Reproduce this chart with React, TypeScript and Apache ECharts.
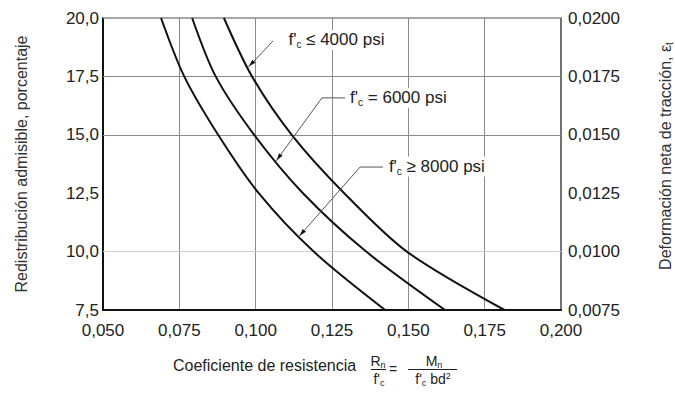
import { useEffect, useRef } from "react";
import * as echarts from "echarts";

const FONT = "'Liberation Sans', Arial, Helvetica, sans-serif";

// Curves (x = Rn/f'c, y = redistribution %)
const curve4000X = [0.0896, 0.0988, 0.1118, 0.129, 0.1495, 0.1815];
const curve4000Y = [20.0, 17.5, 15.0, 12.5, 10.0, 7.5];
const curve6000X = [0.0792, 0.0869, 0.0995, 0.1155, 0.1362, 0.162];
const curve6000Y = [20.0, 17.5, 15.0, 12.5, 10.0, 7.5];
const curve8000X = [0.069, 0.0766, 0.0877, 0.101, 0.119, 0.1424];
const curve8000Y = [20.0, 17.5, 15.0, 12.5, 10.0, 7.5];

const seriesNames = ["f'c ≤ 4000 psi", "f'c = 6000 psi", "f'c ≥ 8000 psi"];

// Axes
const xMin = 0.05, xMax = 0.2, xStep = 0.025;
const yMin = 7.5, yMax = 20.0, yStep = 2.5;
const y2Min = 0.0075, y2Max = 0.02, y2Step = 0.0025;
const hGridDark = [15.0, 17.5];
const hGridLight = [10.0];
const topBorder = [20.0];

// Annotations (data coordinates)
const labelRest = [" ≤ 4000 psi", " = 6000 psi", " ≥ 8000 psi"];
const labelAnchorX = [0.1104, 0.1306, 0.1433];
const labelAnchorY = [19.06, 16.58, 13.64];
const leaderX = [
  [0.1057, 0.0976],
  [0.1293, 0.1217, 0.1067],
  [0.1417, 0.1342, 0.1142],
];
const leaderY = [
  [19.02, 17.9],
  [16.58, 16.58, 13.88],
  [13.62, 13.62, 10.65],
];

const zip = (xs: number[], ys: number[]) => xs.map((x, i) => [x, ys[i]]);

export default function App() {
  const ref = useRef<HTMLDivElement>(null);

  useEffect(() => {
    if (!ref.current) return;
    const chart = echarts.init(ref.current, undefined, { renderer: "svg" });

    const curveSeries = [
      zip(curve4000X, curve4000Y),
      zip(curve6000X, curve6000Y),
      zip(curve8000X, curve8000Y),
    ].map((data, i) => ({
      name: seriesNames[i],
      type: "line",
      data,
      smooth: 0.3,
      showSymbol: false,
      symbol: "none",
      lineStyle: { color: "#111", width: 2 },
      z: 5,
      silent: true,
    }));

    const gridLineSeries = {
      type: "line",
      data: [],
      silent: true,
      markLine: {
        silent: true,
        symbol: ["none", "none"],
        label: { show: false },
        animation: false,
        data: [
          ...hGridDark.map((v) => ({ yAxis: v, lineStyle: { color: "#8a8a8a", width: 1, type: "solid" } })),
          ...hGridLight.map((v) => ({ yAxis: v, lineStyle: { color: "#cfcfcf", width: 1, type: "solid" } })),
          ...topBorder.map((v) => ({ yAxis: v, lineStyle: { color: "#8a8a8a", width: 1.5, type: "solid" } })),
        ],
      },
      z: 1,
    };

    chart.setOption({
      animation: false,
      grid: { left: 103, right: 114, top: 18, bottom: 84, containLabel: false, outerBoundsMode: "none" },
      xAxis: {
        type: "value",
        min: xMin,
        max: xMax,
        interval: xStep,
        axisLine: { show: true, onZero: false, lineStyle: { color: "#111", width: 2 } },
        axisTick: { show: false },
        splitLine: { show: true, showMinLine: false, showMaxLine: false, lineStyle: { color: "#8a8a8a", width: 1 } },
        axisLabel: {
          fontSize: 17,
          fontFamily: FONT,
          color: "#222",
          margin: 12,
          formatter: (v: number) => v.toFixed(3).replace(".", ","),
        },
      },
      yAxis: [
        {
          type: "value",
          position: "left",
          min: yMin,
          max: yMax,
          interval: yStep,
          axisLine: { show: true, onZero: false, lineStyle: { color: "#111", width: 2 } },
          axisTick: { show: false },
          splitLine: { show: false },
          axisLabel: {
            fontSize: 17,
            fontFamily: FONT,
            color: "#222",
            margin: 4,
            formatter: (v: number) => v.toFixed(1).replace(".", ","),
          },
        },
        {
          type: "value",
          position: "right",
          min: y2Min,
          max: y2Max,
          interval: y2Step,
          axisLine: { show: true, onZero: false, lineStyle: { color: "#444", width: 1.5 } },
          axisTick: { show: false },
          splitLine: { show: false },
          axisLabel: {
            fontSize: 17,
            fontFamily: FONT,
            color: "#222",
            margin: 7,
            formatter: (v: number) => v.toFixed(4).replace(".", ","),
          },
        },
      ],
      series: [gridLineSeries, ...curveSeries],
    });

    const toPx = (x: number, y: number) =>
      chart.convertToPixel({ xAxisIndex: 0, yAxisIndex: 0 }, [x, y]) as number[];

    const graphics: any[] = [];

    // Leader lines with arrowheads
    leaderX.forEach((xs, i) => {
      const pts = xs.map((x, j) => toPx(x, leaderY[i][j]));
      graphics.push({
        type: "polyline",
        shape: { points: pts },
        style: { stroke: "#555", lineWidth: 1, fill: null },
        z: 20,
        silent: true,
      });
      const tip = pts[pts.length - 1];
      const prev = pts[pts.length - 2];
      const dx = tip[0] - prev[0];
      const dy = tip[1] - prev[1];
      const len = Math.sqrt(dx * dx + dy * dy);
      const ux = dx / len, uy = dy / len;
      const px = -uy, py = ux;
      const L = 8, W = 2.2;
      graphics.push({
        type: "polygon",
        shape: {
          points: [
            [tip[0] - ux * 1, tip[1] - uy * 1],
            [tip[0] - ux * L + px * W, tip[1] - uy * L + py * W],
            [tip[0] - ux * L - px * W, tip[1] - uy * L - py * W],
          ],
        },
        style: { fill: "#111" },
        z: 21,
        silent: true,
      });
    });

    // Curve labels
    labelRest.forEach((rest, i) => {
      const p = toPx(labelAnchorX[i], labelAnchorY[i]);
      graphics.push({
        type: "text",
        x: p[0],
        y: p[1],
        z: 22,
        silent: true,
        style: {
          text: `{a|f'}{s|c}{a|${rest}}`,
          align: "left",
          verticalAlign: "middle",
          backgroundColor: "#fff",
          padding: [0, 1],
          rich: {
            a: { fontSize: 17, lineHeight: 20, fontFamily: FONT, fill: "#222" },
            s: { fontSize: 10, lineHeight: 10, fontFamily: FONT, fill: "#222", verticalAlign: "bottom" },
          },
        },
      });
    });

    // Left axis name
    graphics.push({
      type: "text",
      x: 21,
      y: 164,
      rotation: Math.PI / 2,
      silent: true,
      style: {
        text: "Redistribución admisible, porcentaje",
        fontSize: 16,
        fontFamily: FONT,
        fill: "#333",
        align: "center",
        verticalAlign: "middle",
      },
    });

    // Right axis name (at the page edge)
    graphics.push({
      type: "text",
      x: 665,
      y: 156,
      rotation: Math.PI / 2,
      silent: true,
      style: {
        text: "{a|Deformación neta de tracción, ε}{s|t}",
        align: "center",
        verticalAlign: "middle",
        rich: {
          a: { fontSize: 16, lineHeight: 18, fontFamily: FONT, fill: "#333" },
          s: { fontSize: 10, lineHeight: 10, fontFamily: FONT, fill: "#333", verticalAlign: "bottom" },
        },
      },
    });

    // Bottom axis name with formula
    const fracRich = {
      a: { fontSize: 14, lineHeight: 16, fontFamily: FONT, fill: "#222" },
      s: { fontSize: 9, lineHeight: 9, fontFamily: FONT, fill: "#222", verticalAlign: "bottom" },
      p: { fontSize: 9, lineHeight: 9, fontFamily: FONT, fill: "#222", verticalAlign: "top" },
    };
    graphics.push(
      {
        type: "text",
        x: 173,
        y: 365,
        silent: true,
        style: {
          text: "Coeficiente de resistencia",
          fontSize: 16,
          fontFamily: FONT,
          fill: "#222",
          align: "left",
          verticalAlign: "middle",
        },
      },
      {
        type: "text",
        x: 378,
        y: 361,
        silent: true,
        style: { text: "{a|R}{s|n}", align: "center", verticalAlign: "middle", rich: fracRich },
      },
      {
        type: "line",
        silent: true,
        shape: { x1: 371, y1: 369.5, x2: 386, y2: 369.5 },
        style: { stroke: "#222", lineWidth: 1 },
      },
      {
        type: "text",
        x: 379,
        y: 379,
        silent: true,
        style: { text: "{a|f'}{s|c}", align: "center", verticalAlign: "middle", rich: fracRich },
      },
      {
        type: "text",
        x: 393,
        y: 369,
        silent: true,
        style: { text: "=", fontSize: 14, fontFamily: FONT, fill: "#222", align: "center", verticalAlign: "middle" },
      },
      {
        type: "text",
        x: 434,
        y: 361,
        silent: true,
        style: { text: "{a|M}{s|n}", align: "center", verticalAlign: "middle", rich: fracRich },
      },
      {
        type: "line",
        silent: true,
        shape: { x1: 408, y1: 369.5, x2: 457, y2: 369.5 },
        style: { stroke: "#222", lineWidth: 1 },
      },
      {
        type: "text",
        x: 433,
        y: 379,
        silent: true,
        style: { text: "{a|f'}{s|c}{a| bd}{p|2}", align: "center", verticalAlign: "middle", rich: fracRich },
      }
    );

    chart.setOption({ graphic: graphics });

    return () => chart.dispose();
  }, []);

  return (
    <div
      ref={ref}
      style={{ position: "fixed", left: 0, top: 0, width: 675, height: 394, background: "#fff" }}
    />
  );
}
